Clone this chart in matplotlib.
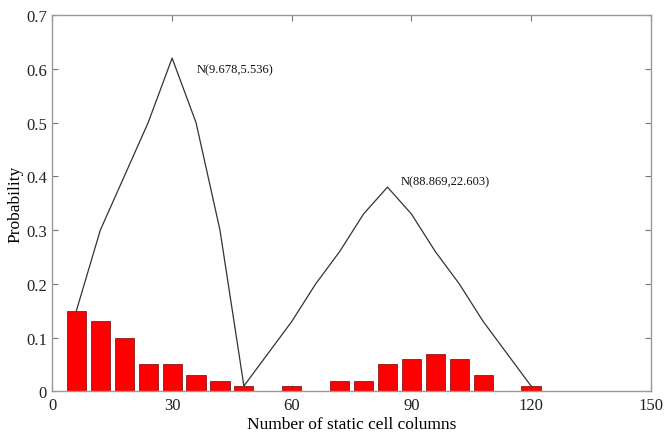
"""
Histogram of static cell columns with two fitted curves.
"""

import matplotlib.pyplot as plt
import numpy as np

plt.rcParams['font.family'] = ['Liberation Serif', 'DejaVu Serif']

# bar data
bin_centers = [6, 12, 18, 24, 30, 36, 42, 48, 54, 60, 66, 72, 78, 84, 90, 96, 102, 108, 114, 120]
probabilities = [0.15, 0.13, 0.10, 0.05, 0.05, 0.03, 0.02, 0.01, 0.0, 0.01, 0.0,
                 0.02, 0.02, 0.05, 0.06, 0.07, 0.06, 0.03, 0.0, 0.01]

# fitted curve vertices
curve_x = [6, 12, 18, 24, 30, 36, 42, 48, 60, 66, 72, 78, 84, 90, 96, 102, 108, 120]
curve_y = [0.15, 0.30, 0.40, 0.50, 0.62, 0.50, 0.30, 0.01, 0.13, 0.20, 0.26, 0.33,
           0.38, 0.33, 0.26, 0.20, 0.13, 0.01]

labels = ["N(9.678,5.536)", "N(88.869,22.603)"]
label_pos = [(36.2, 0.60), (87.4, 0.39)]

x_ticks = [0, 30, 60, 90, 120, 150]
y_ticks = [0, 0.1, 0.2, 0.3, 0.4, 0.5, 0.6, 0.7]

fig = plt.figure(figsize=(6.64, 4.35), dpi=100)
ax = fig.add_axes([0.079, 0.098, 0.901, 0.865])

heights = np.array(probabilities)
ax.bar(bin_centers, heights, width=4.8, color='#ff0000', edgecolor='#8b1a1a', linewidth=0.6, zorder=2)
ax.plot(curve_x, curve_y, color='#333333', linewidth=0.9, zorder=3)

for text, (tx, ty) in zip(labels, label_pos):
    ax.text(tx, ty, text, ha='left', va='center', fontsize=9, color='#111111')

ax.set_xlim(0, 150)
ax.set_ylim(0, 0.7)
ax.set_xticks(x_ticks)
ax.set_yticks(y_ticks)
ax.set_yticklabels(['0', '0.1', '0.2', '0.3', '0.4', '0.5', '0.6', '0.7'])
ax.tick_params(direction='in', top=True, right=True, length=4, width=0.8,
               color='#777777', labelsize=12, labelcolor='#222222', pad=4)

for spine in ax.spines.values():
    spine.set_color('#999999')
    spine.set_linewidth(1.0)

ax.set_xlabel("Number of static cell columns", fontsize=12.5, labelpad=2)
ax.set_ylabel("Probability", fontsize=12.5, labelpad=2)

plt.savefig('out.png', dpi=100, facecolor='white')
plt.close()
